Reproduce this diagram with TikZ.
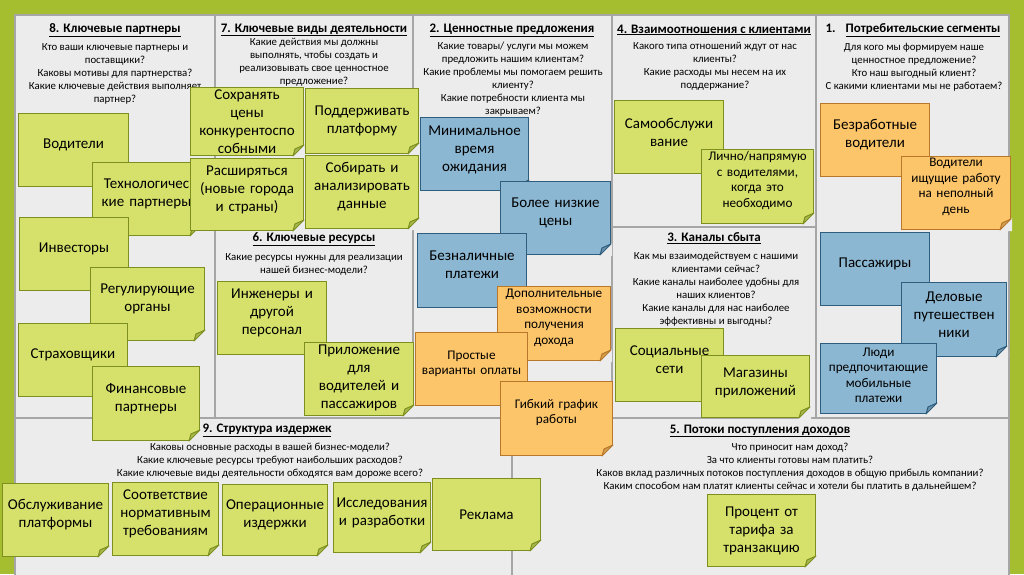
\documentclass[tikz,border=0pt]{standalone}
\usepackage{fontspec}
\setmainfont{Carlito}
\usetikzlibrary{calc}
\hyphenpenalty=10000
\newlength\notelift
\definecolor{frame}{HTML}{A5BE30}
\definecolor{board}{HTML}{ECECEC}
\definecolor{grid}{HTML}{A6A6A6}
\definecolor{grnfill}{HTML}{D5E16B}
\definecolor{grnline}{HTML}{7D8F1F}
\definecolor{grnfold}{HTML}{A9B84C}
\definecolor{blufill}{HTML}{8CB7D2}
\definecolor{bluline}{HTML}{2E5D7E}
\definecolor{blufold}{HTML}{6C92AB}
\definecolor{orgfill}{HTML}{FDC56A}
\definecolor{orgline}{HTML}{B8772A}
\definecolor{orgfold}{HTML}{D09F50}
\tikzset{
  note/.style={draw=#1line,fill=#1fill,line width=1pt,anchor=north west,inner sep=1pt,align=center,
    minimum height=73pt,font=\fontsize{15}{18}\selectfont,execute at end node={\par\kern\notelift},lift=10pt,wd=109pt},
  note/.default={grn},
  wd/.style={minimum width=#1,text width=#1-2pt},
  lift/.code={\setlength\notelift{#1}},
  small/.style={font=\fontsize{13.2}{15.5}\selectfont},
  head/.style={font=\fontsize{13}{15}\bfseries\selectfont,inner sep=0pt},
  ask/.style={font=\fontsize{10.8}{13}\selectfont,align=center,anchor=north,inner sep=0pt},
  cell/.style={draw=grid,line width=1.2pt},
}
% folded corner of a note
\newcommand{\fold}[2]{%
  \fill[board] ($(#1.south east)+(-12pt,-1pt)$) -- ($(#1.south east)+(1pt,-1pt)$) -- ($(#1.south east)+(1pt,12pt)$) -- cycle;
  \filldraw[fill=#2fold,draw=#2line,line width=1pt,line join=round]
    ($(#1.south east)+(-11pt,0pt)$) -- ($(#1.south east)+(0pt,11pt)$) -- ($(#1.south east)+(-9pt,7pt)$) -- cycle;
}

\begin{document}
\begin{tikzpicture}[x=1pt,y=-1pt]
 \useasboundingbox (0,0) rectangle (1024,574);
 \fill[frame] (0,0) rectangle (1024,574);
 \filldraw[fill=board,cell] (15,15) rectangle (1009,600);
 \draw[cell] (215,15) -- (215,418) (413,15) -- (413,418) (612,15) -- (612,418) (816,15) -- (816,418)
   (215,227) -- (413,227) (612,227) -- (816,227) (15,418) -- (1009,418) (512,418) -- (512,600);

 % headings and questions
 \node[head] (h8) at (115,30) {\underline{8. Ключевые партнеры}};
 \node[ask] (q8) at (115,43) {Кто ваши ключевые партнеры и\\поставщики?\\Каковы мотивы для партнерства?\\Какие ключевые действия выполняет\\партнер?};
 \node[head] (h7) at (314,30) {\underline{7. Ключевые виды деятельности}};
 \node[ask] (q7) at (314,38) {Какие действия мы должны\\выполнять, чтобы создать и\\реализовывать свое ценностное\\предложение?};
 \node[head] (h2) at (512,30) {\underline{2. Ценностные предложения}};
 \node[ask] (q2) at (513,42) {Какие товары/ услуги мы можем\\предложить нашим клиентам?\\Какие проблемы мы помогаем решить\\клиенту?\\Какие потребности клиента мы\\закрываем?};
 \node[head] (h4) at (714,30) {\underline{4. Взаимоотношения с клиентами}};
 \node[ask] (q4) at (715,42) {Какого типа отношений ждут от нас\\клиенты?\\Какие расходы мы несем на их\\поддержание?};
 \node[head] (h1) at (913,30) {1.\hspace{10pt}\underline{Потребительские сегменты}};
 \node[ask] (q1) at (914,43) {Для кого мы формируем наше\\ценностное предложение?\\Кто наш выгодный клиент?\\С какими клиентами мы не работаем?};
 \node[head] (h6) at (314,239) {\underline{6. Ключевые ресурсы}};
 \node[ask] (q6) at (314,253) {Какие ресурсы нужны для реализации\\нашей бизнес-модели?};
 \node[head] (h3) at (714,238) {\underline{3. Каналы сбыта}};
 \node[ask] (q3) at (716,252) {Как мы взаимодействуем с нашими\\клиентами сейчас?\\Какие каналы наиболее удобны для\\наших клиентов?\\Какие каналы для нас наиболее\\эффективны и выгодны?};
 \node[head] (h9) at (267,430) {\underline{9. Структура издержек}};
 \node[ask] (q9) at (270,443) {Каковы основные расходы в вашей бизнес-модели?\\Какие ключевые ресурсы требуют наибольших расходов?\\Какие ключевые виды деятельности обходятся вам дороже всего?};
 \node[head] (h5) at (760,431) {\underline{5. Потоки поступления доходов}};
 \node[ask] (q5) at (790,443) {Что приносит нам доход?\\За что клиенты готовы нам платить?\\Каков вклад различных потоков поступления доходов в общую прибыль компании?\\Каким способом нам платят клиенты сейчас и хотели бы платить в дальнейшем?};

 % 8. partners
 \node[note,wd=110pt] (vod) at (18,113) {Водители}; \fold{vod}{grn}
 \node[note,wd=108pt] (tech) at (92,162) {Технологичес\\кие партнеры}; \fold{tech}{grn}
 \node[note] (inv) at (19,217) {Инвесторы}; \fold{inv}{grn}
 \node[note,wd=114pt] (reg) at (90,267) {Регулирующие\\органы}; \fold{reg}{grn}
 \node[note] (strah) at (18,323) {Страховщики}; \fold{strah}{grn}
 \node[note,wd=107pt,minimum height=74pt] (fin) at (92,366) {Финансовые\\партнеры}; \fold{fin}{grn}

 % 7. activities
 \node[note,wd=113pt,minimum height=68pt,lift=0pt] (price) at (190,87) {Сохранять\\цены\\конкурентоспо\\собными}; \fold{price}{grn}
 \node[note,wd=113pt,minimum height=65pt,lift=0pt] (platf) at (305,88) {Поддерживать\\платформу}; \fold{platf}{grn}
 \node[note,wd=113pt,minimum height=72pt] (expand) at (190,158) {Расширяться\\(новые города\\и страны)}; \fold{expand}{grn}
 \node[note,wd=113pt] (data) at (305,155) {Собирать и\\анализировать\\данные}; \fold{data}{grn}

 % 6. resources
 \node[note,lift=11pt] (staff) at (217,281) {Инженеры и\\другой\\персонал}; \fold{staff}{grn}
 \node[note,lift=3pt] (app) at (304,342) {Приложение\\для\\водителей и\\пассажиров}; \fold{app}{grn}

 % 2. value propositions
 \node[note=blu,wd=108pt,lift=9pt] (wait) at (420,117) {Минимальное\\время\\ожидания}; \fold{wait}{blu}
 \node[note=blu,wd=110pt,lift=11pt] (cheap) at (500,181) {Более низкие\\цены}; \fold{cheap}{blu}
 \node[note=blu,minimum height=74pt,lift=12pt] (cashless) at (417,233) {Безналичные\\платежи}; \fold{cashless}{blu}
 \node[note=org,small,wd=113pt,minimum height=74pt,lift=11pt] (extra) at (497,286) {Дополнительные\\возможности\\получения\\дохода}; \fold{extra}{org}
 \node[note=org,small,wd=112pt] (simple) at (415,332) {Простые\\варианты оплаты}; \fold{simple}{org}
 \node[note=org,small,wd=112pt,minimum height=74pt,lift=12pt] (flex) at (500,381) {Гибкий график\\работы}; \fold{flex}{org}

 % 4. relationships
 \node[note] (self) at (614,100) {Самообслужи\\вание}; \fold{self}{grn}
 \node[note,small,wd=112pt,minimum height=74pt,lift=12pt] (personal) at (701,149) {Лично/напрямую\\с водителями,\\когда это\\необходимо}; \fold{personal}{grn}

 % 3. channels
 \node[note,wd=108pt,lift=11pt] (social) at (615,328) {Социальные\\сети}; \fold{social}{grn}
 \node[note,wd=108pt,minimum height=62pt,lift=8pt] (stores) at (701,355) {Магазины\\приложений}; \fold{stores}{grn}

 % 1. segments
 \node[note=org,lift=11pt] (jobless) at (820,103) {Безработные\\водители}; \fold{jobless}{org}
 \node[note=org,small,lift=12pt] (parttime) at (901,156) {Водители\\ищущие работу\\на неполный\\день}; \fold{parttime}{org}
 \node[note=blu,lift=11pt] (pass) at (820,232) {Пассажиры}; \fold{pass}{blu}
 \node[note=blu,wd=105pt,minimum height=74pt] (business) at (901,282) {Деловые\\путешествен\\ники}; \fold{business}{blu}
 \node[note=blu,small,wd=116pt,minimum height=70pt,lift=6pt] (mobile) at (820,343) {Люди\\предпочитающие\\мобильные\\платежи}; \fold{mobile}{blu}

 % 9. costs
 \node[note,wd=106pt] (serv) at (2,483) {Обслуживание\\платформы}; \fold{serv}{grn}
 \node[note,wd=106pt] (norm) at (112,482) {Соответствие\\нормативным\\требованиям}; \fold{norm}{grn}
 \node[note,wd=105pt,minimum height=71pt] (oper) at (222,484) {Операционные\\издержки}; \fold{oper}{grn}
 \node[note,wd=97pt,minimum height=70pt] (rnd) at (333,482) {Исследования\\и разработки}; \fold{rnd}{grn}
 \node[note,wd=108pt,minimum height=72pt,lift=0pt] (ads) at (432,478) {Реклама}; \fold{ads}{grn}

 % 5. revenue
 \node[note,wd=108pt,minimum height=72pt,lift=0pt] (fee) at (707,494) {Процент от\\тарифа за\\транзакцию}; \fold{fee}{grn}
\end{tikzpicture}
\end{document}
